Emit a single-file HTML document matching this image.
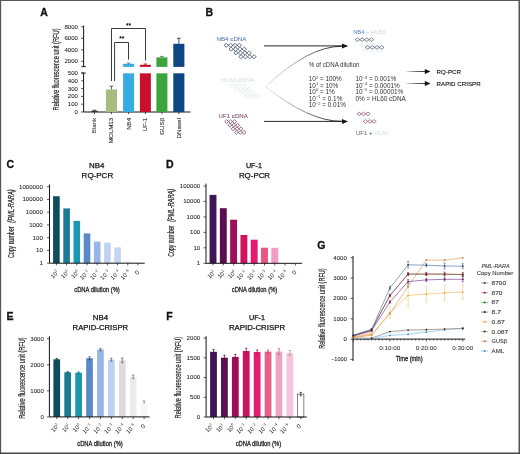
<!DOCTYPE html>
<html><head><meta charset="utf-8"><style>
html,body{margin:0;padding:0;background:#fff;}
body{width:520px;height:454px;overflow:hidden;}
svg{display:block;font-family:"Liberation Sans", sans-serif;-webkit-font-smoothing:antialiased;will-change:transform;}
</style></head><body>
<svg width="520" height="454" viewBox="0 0 520 454">
<rect x="0" y="0" width="520" height="454" fill="#fff"/>
<text x="40.30" y="15.70" font-size="10.5" fill="#111" font-weight="bold" stroke="#111" stroke-width="0.3">A</text>
<text x="205.60" y="15.90" font-size="10.5" fill="#111" font-weight="bold" stroke="#111" stroke-width="0.3">B</text>
<text x="6.50" y="167.50" font-size="10.5" fill="#111" font-weight="bold" stroke="#111" stroke-width="0.3">C</text>
<text x="165.90" y="167.50" font-size="10.5" fill="#111" font-weight="bold" stroke="#111" stroke-width="0.3">D</text>
<text x="6.60" y="320.30" font-size="10.5" fill="#111" font-weight="bold" stroke="#111" stroke-width="0.3">E</text>
<text x="166.20" y="320.30" font-size="10.5" fill="#111" font-weight="bold" stroke="#111" stroke-width="0.3">F</text>
<text x="317.20" y="249.20" font-size="10.5" fill="#111" font-weight="bold" stroke="#111" stroke-width="0.3">G</text>
<line x1="83.60" y1="25.50" x2="83.60" y2="66.80" stroke="#141414" stroke-width="1.0" />
<line x1="81.50" y1="66.60" x2="85.70" y2="66.60" stroke="#141414" stroke-width="1.0" />
<line x1="81.10" y1="26.80" x2="83.60" y2="26.80" stroke="#141414" stroke-width="0.7" />
<text x="78.00" y="28.70" font-size="5.3" text-anchor="end" fill="#222" stroke="#222" stroke-width="0.06" textLength="13.60" lengthAdjust="spacingAndGlyphs">8000</text>
<line x1="81.10" y1="38.30" x2="83.60" y2="38.30" stroke="#141414" stroke-width="0.7" />
<text x="78.00" y="40.20" font-size="5.3" text-anchor="end" fill="#222" stroke="#222" stroke-width="0.06" textLength="13.60" lengthAdjust="spacingAndGlyphs">6000</text>
<line x1="81.10" y1="49.80" x2="83.60" y2="49.80" stroke="#141414" stroke-width="0.7" />
<text x="78.00" y="51.70" font-size="5.3" text-anchor="end" fill="#222" stroke="#222" stroke-width="0.06" textLength="13.60" lengthAdjust="spacingAndGlyphs">4000</text>
<line x1="81.10" y1="61.30" x2="83.60" y2="61.30" stroke="#141414" stroke-width="0.7" />
<text x="78.00" y="63.20" font-size="5.3" text-anchor="end" fill="#222" stroke="#222" stroke-width="0.06" textLength="13.60" lengthAdjust="spacingAndGlyphs">2000</text>
<line x1="83.60" y1="73.00" x2="83.60" y2="112.00" stroke="#141414" stroke-width="1.0" />
<line x1="81.50" y1="73.00" x2="85.70" y2="73.00" stroke="#141414" stroke-width="1.0" />
<line x1="81.10" y1="73.00" x2="83.60" y2="73.00" stroke="#141414" stroke-width="0.7" />
<text x="78.00" y="74.90" font-size="5.3" text-anchor="end" fill="#222" stroke="#222" stroke-width="0.06" textLength="10.20" lengthAdjust="spacingAndGlyphs">500</text>
<line x1="81.10" y1="80.80" x2="83.60" y2="80.80" stroke="#141414" stroke-width="0.7" />
<text x="78.00" y="82.70" font-size="5.3" text-anchor="end" fill="#222" stroke="#222" stroke-width="0.06" textLength="10.20" lengthAdjust="spacingAndGlyphs">400</text>
<line x1="81.10" y1="88.60" x2="83.60" y2="88.60" stroke="#141414" stroke-width="0.7" />
<text x="78.00" y="90.50" font-size="5.3" text-anchor="end" fill="#222" stroke="#222" stroke-width="0.06" textLength="10.20" lengthAdjust="spacingAndGlyphs">300</text>
<line x1="81.10" y1="96.40" x2="83.60" y2="96.40" stroke="#141414" stroke-width="0.7" />
<text x="78.00" y="98.30" font-size="5.3" text-anchor="end" fill="#222" stroke="#222" stroke-width="0.06" textLength="10.20" lengthAdjust="spacingAndGlyphs">200</text>
<line x1="81.10" y1="104.20" x2="83.60" y2="104.20" stroke="#141414" stroke-width="0.7" />
<text x="78.00" y="106.10" font-size="5.3" text-anchor="end" fill="#222" stroke="#222" stroke-width="0.06" textLength="10.20" lengthAdjust="spacingAndGlyphs">100</text>
<line x1="81.10" y1="112.00" x2="83.60" y2="112.00" stroke="#141414" stroke-width="0.7" />
<text x="78.00" y="113.90" font-size="5.3" text-anchor="end" fill="#222" stroke="#222" stroke-width="0.06" textLength="3.40" lengthAdjust="spacingAndGlyphs">0</text>
<line x1="83.60" y1="112.00" x2="190.50" y2="112.00" stroke="#141414" stroke-width="1.0" />
<rect x="91.20" y="110.80" width="6.60" height="1.20" fill="#333333" />
<line x1="94.50" y1="110.20" x2="94.50" y2="111.00" stroke="#222" stroke-width="0.8" />
<line x1="92.70" y1="110.20" x2="96.30" y2="110.20" stroke="#222" stroke-width="0.8" />
<line x1="94.50" y1="112.00" x2="94.50" y2="114.20" stroke="#141414" stroke-width="0.7" />
<text transform="translate(96.40,117.80) rotate(-90)" font-size="6.2" text-anchor="end" fill="#2a2a2a" stroke="#2a2a2a" stroke-width="0.08" >Blank</text>
<rect x="105.90" y="89.40" width="11.10" height="22.60" fill="#a9bb80" />
<line x1="111.45" y1="86.20" x2="111.45" y2="89.40" stroke="#3a3a2a" stroke-width="0.8" />
<line x1="109.65" y1="86.20" x2="113.25" y2="86.20" stroke="#3a3a2a" stroke-width="0.8" />
<line x1="111.45" y1="112.00" x2="111.45" y2="114.20" stroke="#141414" stroke-width="0.7" />
<text transform="translate(113.35,117.80) rotate(-90)" font-size="6.2" text-anchor="end" fill="#2a2a2a" stroke="#2a2a2a" stroke-width="0.08" >MOLM13</text>
<rect x="123.10" y="73.30" width="11.00" height="38.70" fill="#38aae2" />
<rect x="123.10" y="63.80" width="11.00" height="3.10" fill="#38aae2" />
<line x1="128.60" y1="63.00" x2="128.60" y2="63.80" stroke="#2a78b0" stroke-width="0.8" />
<line x1="126.80" y1="63.00" x2="130.40" y2="63.00" stroke="#2a78b0" stroke-width="0.8" />
<line x1="128.60" y1="112.00" x2="128.60" y2="114.20" stroke="#141414" stroke-width="0.7" />
<text transform="translate(130.50,117.80) rotate(-90)" font-size="6.2" text-anchor="end" fill="#2a2a2a" stroke="#2a2a2a" stroke-width="0.08" >NB4</text>
<rect x="139.90" y="73.30" width="11.00" height="38.70" fill="#c8102e" />
<rect x="139.90" y="64.80" width="11.00" height="2.10" fill="#c8102e" />
<line x1="145.40" y1="64.00" x2="145.40" y2="64.80" stroke="#8a1020" stroke-width="0.8" />
<line x1="143.60" y1="64.00" x2="147.20" y2="64.00" stroke="#8a1020" stroke-width="0.8" />
<line x1="145.40" y1="112.00" x2="145.40" y2="114.20" stroke="#141414" stroke-width="0.7" />
<text transform="translate(147.30,117.80) rotate(-90)" font-size="6.2" text-anchor="end" fill="#2a2a2a" stroke="#2a2a2a" stroke-width="0.08" >UF-1</text>
<rect x="156.40" y="73.30" width="11.00" height="38.70" fill="#3ba53c" />
<rect x="156.40" y="57.40" width="11.00" height="9.50" fill="#3ba53c" />
<line x1="161.90" y1="56.40" x2="161.90" y2="57.40" stroke="#2a7a2a" stroke-width="0.8" />
<line x1="160.10" y1="56.40" x2="163.70" y2="56.40" stroke="#2a7a2a" stroke-width="0.8" />
<line x1="161.90" y1="112.00" x2="161.90" y2="114.20" stroke="#141414" stroke-width="0.7" />
<text transform="translate(163.80,117.80) rotate(-90)" font-size="6.2" text-anchor="end" fill="#2a2a2a" stroke="#2a2a2a" stroke-width="0.08" >GUS&#946;</text>
<rect x="173.30" y="73.30" width="11.10" height="38.70" fill="#0d4683" />
<rect x="173.30" y="43.80" width="11.10" height="23.10" fill="#0d4683" />
<line x1="178.85" y1="38.30" x2="178.85" y2="43.80" stroke="#0a2a55" stroke-width="0.8" />
<line x1="177.05" y1="38.30" x2="180.65" y2="38.30" stroke="#0a2a55" stroke-width="0.8" />
<line x1="178.85" y1="112.00" x2="178.85" y2="114.20" stroke="#141414" stroke-width="0.7" />
<text transform="translate(180.75,117.80) rotate(-90)" font-size="6.2" text-anchor="end" fill="#2a2a2a" stroke="#2a2a2a" stroke-width="0.08" >DNaseI</text>
<polyline points="111.5,81 111.5,28.5 145.5,28.5 145.5,60.5" fill="none" stroke="#262626" stroke-width="0.9"/>
<polyline points="114.6,81 114.6,42.5 128.5,42.5 128.5,59.5" fill="none" stroke="#262626" stroke-width="0.9"/>
<text x="128.60" y="27.60" font-size="6.5" text-anchor="middle" font-weight="bold" >**</text>
<text x="121.70" y="41.40" font-size="6.5" text-anchor="middle" font-weight="bold" >**</text>
<text transform="translate(58.60,69.45) rotate(-90)" font-size="8.2" text-anchor="middle" fill="#262626" textLength="82" lengthAdjust="spacingAndGlyphs" stroke="#262626" stroke-width="0.18" >Relative fluorescence unit (RFU)</text>
<text x="96.80" y="167.70" font-size="7.8" text-anchor="middle" textLength="15.4" lengthAdjust="spacingAndGlyphs" stroke="#222" stroke-width="0.25" >NB4</text>
<text x="97.40" y="177.60" font-size="7.8" text-anchor="middle" textLength="31.6" lengthAdjust="spacingAndGlyphs" stroke="#222" stroke-width="0.25" >RQ-PCR</text>
<line x1="49.50" y1="184.50" x2="49.50" y2="263.20" stroke="#141414" stroke-width="1.0" />
<line x1="47.00" y1="186.70" x2="49.50" y2="186.70" stroke="#141414" stroke-width="0.7" />
<text x="42.80" y="188.60" font-size="5.3" text-anchor="end" fill="#222" stroke="#222" stroke-width="0.06" textLength="23.80" lengthAdjust="spacingAndGlyphs">1000000</text>
<line x1="47.00" y1="199.45" x2="49.50" y2="199.45" stroke="#141414" stroke-width="0.7" />
<text x="42.80" y="201.35" font-size="5.3" text-anchor="end" fill="#222" stroke="#222" stroke-width="0.06" textLength="20.40" lengthAdjust="spacingAndGlyphs">100000</text>
<line x1="47.00" y1="212.20" x2="49.50" y2="212.20" stroke="#141414" stroke-width="0.7" />
<text x="42.80" y="214.10" font-size="5.3" text-anchor="end" fill="#222" stroke="#222" stroke-width="0.06" textLength="17.00" lengthAdjust="spacingAndGlyphs">10000</text>
<line x1="47.00" y1="224.95" x2="49.50" y2="224.95" stroke="#141414" stroke-width="0.7" />
<text x="42.80" y="226.85" font-size="5.3" text-anchor="end" fill="#222" stroke="#222" stroke-width="0.06" textLength="13.60" lengthAdjust="spacingAndGlyphs">1000</text>
<line x1="47.00" y1="237.70" x2="49.50" y2="237.70" stroke="#141414" stroke-width="0.7" />
<text x="42.80" y="239.60" font-size="5.3" text-anchor="end" fill="#222" stroke="#222" stroke-width="0.06" textLength="10.20" lengthAdjust="spacingAndGlyphs">100</text>
<line x1="47.00" y1="250.45" x2="49.50" y2="250.45" stroke="#141414" stroke-width="0.7" />
<text x="42.80" y="252.35" font-size="5.3" text-anchor="end" fill="#222" stroke="#222" stroke-width="0.06" textLength="6.80" lengthAdjust="spacingAndGlyphs">10</text>
<line x1="47.00" y1="263.20" x2="49.50" y2="263.20" stroke="#141414" stroke-width="0.7" />
<text x="42.80" y="265.10" font-size="5.3" text-anchor="end" fill="#222" stroke="#222" stroke-width="0.06" textLength="3.40" lengthAdjust="spacingAndGlyphs">1</text>
<rect x="53.10" y="196.20" width="6.60" height="67.00" fill="#0f4c5d" />
<rect x="63.30" y="208.40" width="6.60" height="54.80" fill="#1a7b94" />
<rect x="73.50" y="220.90" width="6.60" height="42.30" fill="#1a98b1" />
<rect x="83.70" y="233.40" width="6.60" height="29.80" fill="#5a88c8" />
<rect x="93.90" y="241.60" width="6.60" height="21.60" fill="#96b6e4" />
<rect x="104.10" y="242.70" width="6.60" height="20.50" fill="#c0d3f0" />
<rect x="114.30" y="247.40" width="6.60" height="15.80" fill="#c2d4ef" />
<rect x="124.50" y="259.60" width="6.60" height="3.60" fill="#f3f4f9" />
<line x1="49.50" y1="263.20" x2="144.70" y2="263.20" stroke="#141414" stroke-width="1.0" />
<line x1="56.40" y1="263.20" x2="56.40" y2="265.40" stroke="#141414" stroke-width="0.7" />
<line x1="66.60" y1="263.20" x2="66.60" y2="265.40" stroke="#141414" stroke-width="0.7" />
<line x1="76.80" y1="263.20" x2="76.80" y2="265.40" stroke="#141414" stroke-width="0.7" />
<line x1="87.00" y1="263.20" x2="87.00" y2="265.40" stroke="#141414" stroke-width="0.7" />
<line x1="97.20" y1="263.20" x2="97.20" y2="265.40" stroke="#141414" stroke-width="0.7" />
<line x1="107.40" y1="263.20" x2="107.40" y2="265.40" stroke="#141414" stroke-width="0.7" />
<line x1="117.60" y1="263.20" x2="117.60" y2="265.40" stroke="#141414" stroke-width="0.7" />
<line x1="127.80" y1="263.20" x2="127.80" y2="265.40" stroke="#141414" stroke-width="0.7" />
<line x1="138.00" y1="263.20" x2="138.00" y2="265.40" stroke="#141414" stroke-width="0.7" />
<text transform="translate(59.20,272.60) rotate(-45)" font-size="5.9" text-anchor="end" fill="#222">10<tspan font-size="3.66" dy="-2.48">2</tspan></text>
<text transform="translate(69.40,272.60) rotate(-45)" font-size="5.9" text-anchor="end" fill="#222">10<tspan font-size="3.66" dy="-2.48">1</tspan></text>
<text transform="translate(79.60,272.60) rotate(-45)" font-size="5.9" text-anchor="end" fill="#222">10<tspan font-size="3.66" dy="-2.48">0</tspan></text>
<text transform="translate(89.80,272.60) rotate(-45)" font-size="5.9" text-anchor="end" fill="#222">10<tspan font-size="3.66" dy="-2.48">&#8722;1</tspan></text>
<text transform="translate(100.00,272.60) rotate(-45)" font-size="5.9" text-anchor="end" fill="#222">10<tspan font-size="3.66" dy="-2.48">&#8722;2</tspan></text>
<text transform="translate(110.20,272.60) rotate(-45)" font-size="5.9" text-anchor="end" fill="#222">10<tspan font-size="3.66" dy="-2.48">&#8722;3</tspan></text>
<text transform="translate(120.40,272.60) rotate(-45)" font-size="5.9" text-anchor="end" fill="#222">10<tspan font-size="3.66" dy="-2.48">&#8722;4</tspan></text>
<text transform="translate(130.60,272.60) rotate(-45)" font-size="5.9" text-anchor="end" fill="#222">10<tspan font-size="3.66" dy="-2.48">&#8722;5</tspan></text>
<text transform="translate(139.60,272.80) rotate(-45)" font-size="6.2" text-anchor="end" fill="#222">0</text>
<text transform="translate(14.20,258.00) rotate(-90)" font-size="8.2" fill="#262626" stroke="#262626" stroke-width="0.22" textLength="31.42" lengthAdjust="spacingAndGlyphs">Copy number</text>
<text transform="translate(14.20,222.67) rotate(-90)" font-size="8.2" fill="#262626" stroke="#262626" stroke-width="0.25" font-style="italic" textLength="33.27" lengthAdjust="spacingAndGlyphs">(PML-RARA)</text>
<text x="97.00" y="292.00" font-size="7.4" text-anchor="middle" fill="#1a1a1a" textLength="45.5" lengthAdjust="spacingAndGlyphs" stroke="#1a1a1a" stroke-width="0.28">cDNA dilution (%)</text>
<text x="253.90" y="167.90" font-size="7.8" text-anchor="middle" textLength="16.0" lengthAdjust="spacingAndGlyphs" stroke="#222" stroke-width="0.25" >UF-1</text>
<text x="254.50" y="177.60" font-size="7.8" text-anchor="middle" textLength="31.2" lengthAdjust="spacingAndGlyphs" stroke="#222" stroke-width="0.25" >RQ-PCR</text>
<line x1="206.00" y1="183.60" x2="206.00" y2="263.30" stroke="#141414" stroke-width="1.0" />
<line x1="203.50" y1="186.00" x2="206.00" y2="186.00" stroke="#141414" stroke-width="0.7" />
<text x="200.20" y="187.90" font-size="5.3" text-anchor="end" fill="#222" stroke="#222" stroke-width="0.06" textLength="20.40" lengthAdjust="spacingAndGlyphs">100000</text>
<line x1="203.50" y1="201.46" x2="206.00" y2="201.46" stroke="#141414" stroke-width="0.7" />
<text x="200.20" y="203.36" font-size="5.3" text-anchor="end" fill="#222" stroke="#222" stroke-width="0.06" textLength="17.00" lengthAdjust="spacingAndGlyphs">10000</text>
<line x1="203.50" y1="216.92" x2="206.00" y2="216.92" stroke="#141414" stroke-width="0.7" />
<text x="200.20" y="218.82" font-size="5.3" text-anchor="end" fill="#222" stroke="#222" stroke-width="0.06" textLength="13.60" lengthAdjust="spacingAndGlyphs">1000</text>
<line x1="203.50" y1="232.38" x2="206.00" y2="232.38" stroke="#141414" stroke-width="0.7" />
<text x="200.20" y="234.28" font-size="5.3" text-anchor="end" fill="#222" stroke="#222" stroke-width="0.06" textLength="10.20" lengthAdjust="spacingAndGlyphs">100</text>
<line x1="203.50" y1="247.84" x2="206.00" y2="247.84" stroke="#141414" stroke-width="0.7" />
<text x="200.20" y="249.74" font-size="5.3" text-anchor="end" fill="#222" stroke="#222" stroke-width="0.06" textLength="6.80" lengthAdjust="spacingAndGlyphs">10</text>
<line x1="203.50" y1="263.30" x2="206.00" y2="263.30" stroke="#141414" stroke-width="0.7" />
<text x="200.20" y="265.20" font-size="5.3" text-anchor="end" fill="#222" stroke="#222" stroke-width="0.06" textLength="3.40" lengthAdjust="spacingAndGlyphs">1</text>
<rect x="209.55" y="194.90" width="6.90" height="68.40" fill="#3c1656" />
<rect x="219.85" y="208.20" width="6.90" height="55.10" fill="#5a0f4e" />
<rect x="230.15" y="219.70" width="6.90" height="43.60" fill="#a00f55" />
<rect x="240.45" y="235.00" width="6.90" height="28.30" fill="#d0125f" />
<rect x="250.75" y="239.70" width="6.90" height="23.60" fill="#e61a70" />
<rect x="261.05" y="247.70" width="6.90" height="15.60" fill="#ec5484" />
<rect x="271.35" y="247.80" width="6.90" height="15.50" fill="#f29cc0" />
<line x1="206.00" y1="263.30" x2="302.20" y2="263.30" stroke="#141414" stroke-width="1.0" />
<line x1="213.00" y1="263.30" x2="213.00" y2="265.50" stroke="#141414" stroke-width="0.7" />
<line x1="223.30" y1="263.30" x2="223.30" y2="265.50" stroke="#141414" stroke-width="0.7" />
<line x1="233.60" y1="263.30" x2="233.60" y2="265.50" stroke="#141414" stroke-width="0.7" />
<line x1="243.90" y1="263.30" x2="243.90" y2="265.50" stroke="#141414" stroke-width="0.7" />
<line x1="254.20" y1="263.30" x2="254.20" y2="265.50" stroke="#141414" stroke-width="0.7" />
<line x1="264.50" y1="263.30" x2="264.50" y2="265.50" stroke="#141414" stroke-width="0.7" />
<line x1="274.80" y1="263.30" x2="274.80" y2="265.50" stroke="#141414" stroke-width="0.7" />
<line x1="285.10" y1="263.30" x2="285.10" y2="265.50" stroke="#141414" stroke-width="0.7" />
<line x1="295.40" y1="263.30" x2="295.40" y2="265.50" stroke="#141414" stroke-width="0.7" />
<text transform="translate(215.80,272.70) rotate(-45)" font-size="5.9" text-anchor="end" fill="#222">10<tspan font-size="3.66" dy="-2.48">2</tspan></text>
<text transform="translate(226.10,272.70) rotate(-45)" font-size="5.9" text-anchor="end" fill="#222">10<tspan font-size="3.66" dy="-2.48">1</tspan></text>
<text transform="translate(236.40,272.70) rotate(-45)" font-size="5.9" text-anchor="end" fill="#222">10<tspan font-size="3.66" dy="-2.48">0</tspan></text>
<text transform="translate(246.70,272.70) rotate(-45)" font-size="5.9" text-anchor="end" fill="#222">10<tspan font-size="3.66" dy="-2.48">&#8722;1</tspan></text>
<text transform="translate(257.00,272.70) rotate(-45)" font-size="5.9" text-anchor="end" fill="#222">10<tspan font-size="3.66" dy="-2.48">&#8722;2</tspan></text>
<text transform="translate(267.30,272.70) rotate(-45)" font-size="5.9" text-anchor="end" fill="#222">10<tspan font-size="3.66" dy="-2.48">&#8722;3</tspan></text>
<text transform="translate(277.60,272.70) rotate(-45)" font-size="5.9" text-anchor="end" fill="#222">10<tspan font-size="3.66" dy="-2.48">&#8722;4</tspan></text>
<text transform="translate(287.90,272.70) rotate(-45)" font-size="5.9" text-anchor="end" fill="#222">10<tspan font-size="3.66" dy="-2.48">&#8722;5</tspan></text>
<text transform="translate(297.00,272.90) rotate(-45)" font-size="6.2" text-anchor="end" fill="#222">0</text>
<text transform="translate(174.10,256.80) rotate(-90)" font-size="8.2" fill="#262626" stroke="#262626" stroke-width="0.22" textLength="31.10" lengthAdjust="spacingAndGlyphs">Copy number</text>
<text transform="translate(174.10,221.83) rotate(-90)" font-size="8.2" fill="#262626" stroke="#262626" stroke-width="0.25" font-style="italic" textLength="32.93" lengthAdjust="spacingAndGlyphs">(PML-RARA)</text>
<text x="254.50" y="292.30" font-size="7.4" text-anchor="middle" fill="#1a1a1a" textLength="45.5" lengthAdjust="spacingAndGlyphs" stroke="#1a1a1a" stroke-width="0.28">cDNA dilution (%)</text>
<text x="100.40" y="320.20" font-size="7.8" text-anchor="middle" textLength="15.4" lengthAdjust="spacingAndGlyphs" stroke="#222" stroke-width="0.25" >NB4</text>
<text x="100.40" y="330.20" font-size="7.8" text-anchor="middle" textLength="55.6" lengthAdjust="spacingAndGlyphs" stroke="#222" stroke-width="0.25" >RAPID-CRISPR</text>
<line x1="49.40" y1="336.20" x2="49.40" y2="416.90" stroke="#141414" stroke-width="1.0" />
<line x1="46.90" y1="338.70" x2="49.40" y2="338.70" stroke="#141414" stroke-width="0.7" />
<text x="43.90" y="340.60" font-size="5.3" text-anchor="end" fill="#222" stroke="#222" stroke-width="0.06" textLength="13.60" lengthAdjust="spacingAndGlyphs">3000</text>
<line x1="46.90" y1="364.77" x2="49.40" y2="364.77" stroke="#141414" stroke-width="0.7" />
<text x="43.90" y="366.67" font-size="5.3" text-anchor="end" fill="#222" stroke="#222" stroke-width="0.06" textLength="13.60" lengthAdjust="spacingAndGlyphs">2000</text>
<line x1="46.90" y1="390.83" x2="49.40" y2="390.83" stroke="#141414" stroke-width="0.7" />
<text x="43.90" y="392.73" font-size="5.3" text-anchor="end" fill="#222" stroke="#222" stroke-width="0.06" textLength="13.60" lengthAdjust="spacingAndGlyphs">1000</text>
<line x1="46.90" y1="416.90" x2="49.40" y2="416.90" stroke="#141414" stroke-width="0.7" />
<text x="43.90" y="418.80" font-size="5.3" text-anchor="end" fill="#222" stroke="#222" stroke-width="0.06" textLength="3.40" lengthAdjust="spacingAndGlyphs">0</text>
<rect x="53.40" y="359.30" width="6.70" height="57.60" fill="#0f4c5d" />
<line x1="56.75" y1="358.40" x2="56.75" y2="360.20" stroke="#1a3a44" stroke-width="0.8" />
<line x1="55.65" y1="358.40" x2="57.85" y2="358.40" stroke="#1a3a44" stroke-width="0.8" />
<line x1="55.65" y1="360.20" x2="57.85" y2="360.20" stroke="#1a3a44" stroke-width="0.8" />
<rect x="64.32" y="372.30" width="6.70" height="44.60" fill="#1a7b94" />
<line x1="67.67" y1="371.60" x2="67.67" y2="373.00" stroke="#1a5a6a" stroke-width="0.8" />
<line x1="66.57" y1="371.60" x2="68.77" y2="371.60" stroke="#1a5a6a" stroke-width="0.8" />
<line x1="66.57" y1="373.00" x2="68.77" y2="373.00" stroke="#1a5a6a" stroke-width="0.8" />
<rect x="75.24" y="372.70" width="6.70" height="44.20" fill="#1a98b1" />
<line x1="78.59" y1="372.00" x2="78.59" y2="373.40" stroke="#1a6a7a" stroke-width="0.8" />
<line x1="77.49" y1="372.00" x2="79.69" y2="372.00" stroke="#1a6a7a" stroke-width="0.8" />
<line x1="77.49" y1="373.40" x2="79.69" y2="373.40" stroke="#1a6a7a" stroke-width="0.8" />
<rect x="86.16" y="358.20" width="6.70" height="58.70" fill="#5a88c8" />
<line x1="89.51" y1="356.80" x2="89.51" y2="359.80" stroke="#3a4a70" stroke-width="0.8" />
<line x1="88.41" y1="356.80" x2="90.61" y2="356.80" stroke="#3a4a70" stroke-width="0.8" />
<line x1="88.41" y1="359.80" x2="90.61" y2="359.80" stroke="#3a4a70" stroke-width="0.8" />
<rect x="97.08" y="349.50" width="6.70" height="67.40" fill="#96b6e4" />
<line x1="100.43" y1="348.40" x2="100.43" y2="350.80" stroke="#4a5a80" stroke-width="0.8" />
<line x1="99.33" y1="348.40" x2="101.53" y2="348.40" stroke="#4a5a80" stroke-width="0.8" />
<line x1="99.33" y1="350.80" x2="101.53" y2="350.80" stroke="#4a5a80" stroke-width="0.8" />
<rect x="108.00" y="359.70" width="6.70" height="57.20" fill="#bcd2f0" />
<line x1="111.35" y1="358.20" x2="111.35" y2="361.20" stroke="#55607a" stroke-width="0.8" />
<line x1="110.25" y1="358.20" x2="112.45" y2="358.20" stroke="#55607a" stroke-width="0.8" />
<line x1="110.25" y1="361.20" x2="112.45" y2="361.20" stroke="#55607a" stroke-width="0.8" />
<rect x="118.92" y="360.30" width="6.70" height="56.60" fill="#dcdcdc" />
<line x1="122.27" y1="358.00" x2="122.27" y2="362.60" stroke="#666" stroke-width="0.8" />
<line x1="121.17" y1="358.00" x2="123.37" y2="358.00" stroke="#666" stroke-width="0.8" />
<line x1="121.17" y1="362.60" x2="123.37" y2="362.60" stroke="#666" stroke-width="0.8" />
<rect x="129.84" y="376.70" width="6.70" height="40.20" fill="#ebebeb" />
<line x1="133.19" y1="375.00" x2="133.19" y2="378.60" stroke="#777" stroke-width="0.8" />
<line x1="132.09" y1="375.00" x2="134.29" y2="375.00" stroke="#777" stroke-width="0.8" />
<line x1="132.09" y1="378.60" x2="134.29" y2="378.60" stroke="#777" stroke-width="0.8" />
<rect x="140.76" y="403.40" width="6.70" height="13.50" fill="#f6f6f6" />
<line x1="144.11" y1="401.00" x2="144.11" y2="403.60" stroke="#666" stroke-width="0.8" />
<line x1="143.01" y1="401.00" x2="145.21" y2="401.00" stroke="#666" stroke-width="0.8" />
<line x1="49.40" y1="416.90" x2="149.60" y2="416.90" stroke="#141414" stroke-width="1.0" />
<line x1="56.75" y1="416.90" x2="56.75" y2="419.10" stroke="#141414" stroke-width="0.7" />
<line x1="67.67" y1="416.90" x2="67.67" y2="419.10" stroke="#141414" stroke-width="0.7" />
<line x1="78.59" y1="416.90" x2="78.59" y2="419.10" stroke="#141414" stroke-width="0.7" />
<line x1="89.51" y1="416.90" x2="89.51" y2="419.10" stroke="#141414" stroke-width="0.7" />
<line x1="100.43" y1="416.90" x2="100.43" y2="419.10" stroke="#141414" stroke-width="0.7" />
<line x1="111.35" y1="416.90" x2="111.35" y2="419.10" stroke="#141414" stroke-width="0.7" />
<line x1="122.27" y1="416.90" x2="122.27" y2="419.10" stroke="#141414" stroke-width="0.7" />
<line x1="133.19" y1="416.90" x2="133.19" y2="419.10" stroke="#141414" stroke-width="0.7" />
<line x1="144.11" y1="416.90" x2="144.11" y2="419.10" stroke="#141414" stroke-width="0.7" />
<text transform="translate(59.55,426.30) rotate(-45)" font-size="5.9" text-anchor="end" fill="#222">10<tspan font-size="3.66" dy="-2.48">2</tspan></text>
<text transform="translate(70.47,426.30) rotate(-45)" font-size="5.9" text-anchor="end" fill="#222">10<tspan font-size="3.66" dy="-2.48">1</tspan></text>
<text transform="translate(81.39,426.30) rotate(-45)" font-size="5.9" text-anchor="end" fill="#222">10<tspan font-size="3.66" dy="-2.48">0</tspan></text>
<text transform="translate(92.31,426.30) rotate(-45)" font-size="5.9" text-anchor="end" fill="#222">10<tspan font-size="3.66" dy="-2.48">&#8722;1</tspan></text>
<text transform="translate(103.23,426.30) rotate(-45)" font-size="5.9" text-anchor="end" fill="#222">10<tspan font-size="3.66" dy="-2.48">&#8722;2</tspan></text>
<text transform="translate(114.15,426.30) rotate(-45)" font-size="5.9" text-anchor="end" fill="#222">10<tspan font-size="3.66" dy="-2.48">&#8722;3</tspan></text>
<text transform="translate(125.07,426.30) rotate(-45)" font-size="5.9" text-anchor="end" fill="#222">10<tspan font-size="3.66" dy="-2.48">&#8722;4</tspan></text>
<text transform="translate(135.99,426.30) rotate(-45)" font-size="5.9" text-anchor="end" fill="#222">10<tspan font-size="3.66" dy="-2.48">&#8722;5</tspan></text>
<text transform="translate(145.71,426.50) rotate(-45)" font-size="6.2" text-anchor="end" fill="#222">0</text>
<text transform="translate(24.60,378.00) rotate(-90)" font-size="8.2" text-anchor="middle" fill="#262626" textLength="81.5" lengthAdjust="spacingAndGlyphs" stroke="#262626" stroke-width="0.18" >Relative fluorescence unit (RFU)</text>
<text x="100.00" y="445.70" font-size="7.4" text-anchor="middle" fill="#1a1a1a" textLength="45.5" lengthAdjust="spacingAndGlyphs" stroke="#1a1a1a" stroke-width="0.28">cDNA dilution (%)</text>
<text x="257.00" y="320.20" font-size="7.8" text-anchor="middle" textLength="16.0" lengthAdjust="spacingAndGlyphs" stroke="#222" stroke-width="0.25" >UF-1</text>
<text x="257.00" y="330.20" font-size="7.8" text-anchor="middle" textLength="56.2" lengthAdjust="spacingAndGlyphs" stroke="#222" stroke-width="0.25" >RAPID-CRISPR</text>
<line x1="206.10" y1="336.20" x2="206.10" y2="417.10" stroke="#141414" stroke-width="1.0" />
<line x1="203.60" y1="338.10" x2="206.10" y2="338.10" stroke="#141414" stroke-width="0.7" />
<text x="200.20" y="340.00" font-size="5.3" text-anchor="end" fill="#222" stroke="#222" stroke-width="0.06" textLength="13.60" lengthAdjust="spacingAndGlyphs">2000</text>
<line x1="203.60" y1="357.82" x2="206.10" y2="357.82" stroke="#141414" stroke-width="0.7" />
<text x="200.20" y="359.72" font-size="5.3" text-anchor="end" fill="#222" stroke="#222" stroke-width="0.06" textLength="13.60" lengthAdjust="spacingAndGlyphs">1500</text>
<line x1="203.60" y1="377.55" x2="206.10" y2="377.55" stroke="#141414" stroke-width="0.7" />
<text x="200.20" y="379.45" font-size="5.3" text-anchor="end" fill="#222" stroke="#222" stroke-width="0.06" textLength="13.60" lengthAdjust="spacingAndGlyphs">1000</text>
<line x1="203.60" y1="397.27" x2="206.10" y2="397.27" stroke="#141414" stroke-width="0.7" />
<text x="200.20" y="399.17" font-size="5.3" text-anchor="end" fill="#222" stroke="#222" stroke-width="0.06" textLength="10.20" lengthAdjust="spacingAndGlyphs">500</text>
<line x1="203.60" y1="417.00" x2="206.10" y2="417.00" stroke="#141414" stroke-width="0.7" />
<text x="200.20" y="418.90" font-size="5.3" text-anchor="end" fill="#222" stroke="#222" stroke-width="0.06" textLength="3.40" lengthAdjust="spacingAndGlyphs">0</text>
<rect x="210.10" y="351.80" width="6.80" height="65.20" fill="#3c1656" />
<line x1="213.50" y1="349.50" x2="213.50" y2="354.10" stroke="#3c1656" stroke-width="0.8" />
<line x1="212.40" y1="349.50" x2="214.60" y2="349.50" stroke="#3c1656" stroke-width="0.8" />
<line x1="212.40" y1="354.10" x2="214.60" y2="354.10" stroke="#3c1656" stroke-width="0.8" />
<rect x="221.01" y="357.70" width="6.80" height="59.30" fill="#5a0f4e" />
<line x1="224.41" y1="355.20" x2="224.41" y2="360.20" stroke="#5a0f4e" stroke-width="0.8" />
<line x1="223.31" y1="355.20" x2="225.51" y2="355.20" stroke="#5a0f4e" stroke-width="0.8" />
<line x1="223.31" y1="360.20" x2="225.51" y2="360.20" stroke="#5a0f4e" stroke-width="0.8" />
<rect x="231.92" y="356.90" width="6.80" height="60.10" fill="#a00f55" />
<line x1="235.32" y1="354.50" x2="235.32" y2="359.30" stroke="#800c45" stroke-width="0.8" />
<line x1="234.22" y1="354.50" x2="236.42" y2="354.50" stroke="#800c45" stroke-width="0.8" />
<line x1="234.22" y1="359.30" x2="236.42" y2="359.30" stroke="#800c45" stroke-width="0.8" />
<rect x="242.83" y="351.00" width="6.80" height="66.00" fill="#cc1262" />
<line x1="246.23" y1="348.20" x2="246.23" y2="353.80" stroke="#a00e4c" stroke-width="0.8" />
<line x1="245.13" y1="348.20" x2="247.33" y2="348.20" stroke="#a00e4c" stroke-width="0.8" />
<line x1="245.13" y1="353.80" x2="247.33" y2="353.80" stroke="#a00e4c" stroke-width="0.8" />
<rect x="253.74" y="352.00" width="6.80" height="65.00" fill="#e41c72" />
<line x1="257.14" y1="350.10" x2="257.14" y2="353.90" stroke="#b01458" stroke-width="0.8" />
<line x1="256.04" y1="350.10" x2="258.24" y2="350.10" stroke="#b01458" stroke-width="0.8" />
<line x1="256.04" y1="353.90" x2="258.24" y2="353.90" stroke="#b01458" stroke-width="0.8" />
<rect x="264.65" y="351.60" width="6.80" height="65.40" fill="#e8608c" />
<line x1="268.05" y1="350.10" x2="268.05" y2="353.10" stroke="#b84470" stroke-width="0.8" />
<line x1="266.95" y1="350.10" x2="269.15" y2="350.10" stroke="#b84470" stroke-width="0.8" />
<line x1="266.95" y1="353.10" x2="269.15" y2="353.10" stroke="#b84470" stroke-width="0.8" />
<rect x="275.56" y="351.60" width="6.80" height="65.40" fill="#f0a2c4" />
<line x1="278.96" y1="348.60" x2="278.96" y2="354.60" stroke="#b87090" stroke-width="0.8" />
<line x1="277.86" y1="348.60" x2="280.06" y2="348.60" stroke="#b87090" stroke-width="0.8" />
<line x1="277.86" y1="354.60" x2="280.06" y2="354.60" stroke="#b87090" stroke-width="0.8" />
<rect x="286.47" y="353.10" width="6.80" height="63.90" fill="#f6c4da" />
<line x1="289.87" y1="350.50" x2="289.87" y2="355.70" stroke="#b88aa0" stroke-width="0.8" />
<line x1="288.77" y1="350.50" x2="290.97" y2="350.50" stroke="#b88aa0" stroke-width="0.8" />
<line x1="288.77" y1="355.70" x2="290.97" y2="355.70" stroke="#b88aa0" stroke-width="0.8" />
<rect x="297.68" y="394.10" width="6.20" height="22.90" fill="#ffffff" stroke="#333" stroke-width="0.6"/>
<line x1="300.78" y1="392.40" x2="300.78" y2="395.80" stroke="#333" stroke-width="0.8" />
<line x1="299.68" y1="392.40" x2="301.88" y2="392.40" stroke="#333" stroke-width="0.8" />
<line x1="299.68" y1="395.80" x2="301.88" y2="395.80" stroke="#333" stroke-width="0.8" />
<line x1="206.10" y1="417.00" x2="306.80" y2="417.00" stroke="#141414" stroke-width="1.0" />
<line x1="213.50" y1="417.00" x2="213.50" y2="419.20" stroke="#141414" stroke-width="0.7" />
<line x1="224.41" y1="417.00" x2="224.41" y2="419.20" stroke="#141414" stroke-width="0.7" />
<line x1="235.32" y1="417.00" x2="235.32" y2="419.20" stroke="#141414" stroke-width="0.7" />
<line x1="246.23" y1="417.00" x2="246.23" y2="419.20" stroke="#141414" stroke-width="0.7" />
<line x1="257.14" y1="417.00" x2="257.14" y2="419.20" stroke="#141414" stroke-width="0.7" />
<line x1="268.05" y1="417.00" x2="268.05" y2="419.20" stroke="#141414" stroke-width="0.7" />
<line x1="278.96" y1="417.00" x2="278.96" y2="419.20" stroke="#141414" stroke-width="0.7" />
<line x1="289.87" y1="417.00" x2="289.87" y2="419.20" stroke="#141414" stroke-width="0.7" />
<line x1="300.78" y1="417.00" x2="300.78" y2="419.20" stroke="#141414" stroke-width="0.7" />
<text transform="translate(213.70,426.40) rotate(-45)" font-size="5.9" text-anchor="end" fill="#222">10<tspan font-size="3.66" dy="-2.48">2</tspan></text>
<text transform="translate(224.61,426.40) rotate(-45)" font-size="5.9" text-anchor="end" fill="#222">10<tspan font-size="3.66" dy="-2.48">1</tspan></text>
<text transform="translate(235.52,426.40) rotate(-45)" font-size="5.9" text-anchor="end" fill="#222">10<tspan font-size="3.66" dy="-2.48">0</tspan></text>
<text transform="translate(246.43,426.40) rotate(-45)" font-size="5.9" text-anchor="end" fill="#222">10<tspan font-size="3.66" dy="-2.48">&#8722;1</tspan></text>
<text transform="translate(257.34,426.40) rotate(-45)" font-size="5.9" text-anchor="end" fill="#222">10<tspan font-size="3.66" dy="-2.48">&#8722;2</tspan></text>
<text transform="translate(268.25,426.40) rotate(-45)" font-size="5.9" text-anchor="end" fill="#222">10<tspan font-size="3.66" dy="-2.48">&#8722;3</tspan></text>
<text transform="translate(279.16,426.40) rotate(-45)" font-size="5.9" text-anchor="end" fill="#222">10<tspan font-size="3.66" dy="-2.48">&#8722;4</tspan></text>
<text transform="translate(290.07,426.40) rotate(-45)" font-size="5.9" text-anchor="end" fill="#222">10<tspan font-size="3.66" dy="-2.48">&#8722;5</tspan></text>
<text transform="translate(301.34,426.60) rotate(-45)" font-size="6.2" text-anchor="end" fill="#222">0</text>
<text transform="translate(181.20,377.65) rotate(-90)" font-size="8.2" text-anchor="middle" fill="#262626" textLength="81.5" lengthAdjust="spacingAndGlyphs" stroke="#262626" stroke-width="0.18" >Relative fluorescence unit (RFU)</text>
<text x="258.40" y="445.60" font-size="7.4" text-anchor="middle" fill="#1a1a1a" textLength="45.5" lengthAdjust="spacingAndGlyphs" stroke="#1a1a1a" stroke-width="0.28">cDNA dilution (%)</text>
<line x1="353.00" y1="256.00" x2="353.00" y2="361.00" stroke="#141414" stroke-width="1.0" />
<line x1="350.50" y1="257.70" x2="353.00" y2="257.70" stroke="#141414" stroke-width="0.7" />
<text x="346.90" y="259.60" font-size="5.3" text-anchor="end" fill="#222" stroke="#222" stroke-width="0.06" textLength="13.60" lengthAdjust="spacingAndGlyphs">4000</text>
<line x1="350.50" y1="278.05" x2="353.00" y2="278.05" stroke="#141414" stroke-width="0.7" />
<text x="346.90" y="279.95" font-size="5.3" text-anchor="end" fill="#222" stroke="#222" stroke-width="0.06" textLength="13.60" lengthAdjust="spacingAndGlyphs">3000</text>
<line x1="350.50" y1="298.40" x2="353.00" y2="298.40" stroke="#141414" stroke-width="0.7" />
<text x="346.90" y="300.30" font-size="5.3" text-anchor="end" fill="#222" stroke="#222" stroke-width="0.06" textLength="13.60" lengthAdjust="spacingAndGlyphs">2000</text>
<line x1="350.50" y1="318.75" x2="353.00" y2="318.75" stroke="#141414" stroke-width="0.7" />
<text x="346.90" y="320.65" font-size="5.3" text-anchor="end" fill="#222" stroke="#222" stroke-width="0.06" textLength="13.60" lengthAdjust="spacingAndGlyphs">1000</text>
<line x1="350.50" y1="339.10" x2="353.00" y2="339.10" stroke="#141414" stroke-width="0.7" />
<text x="346.90" y="341.00" font-size="5.3" text-anchor="end" fill="#222" stroke="#222" stroke-width="0.06" textLength="3.40" lengthAdjust="spacingAndGlyphs">0</text>
<line x1="350.50" y1="359.45" x2="353.00" y2="359.45" stroke="#141414" stroke-width="0.7" />
<text x="346.90" y="361.35" font-size="5.3" text-anchor="end" fill="#222" stroke="#222" stroke-width="0.06" textLength="16.00" lengthAdjust="spacingAndGlyphs">&#8722;1000</text>
<line x1="353.00" y1="339.10" x2="465.20" y2="339.10" stroke="#141414" stroke-width="1.0" />
<line x1="353.40" y1="339.10" x2="353.40" y2="341.50" stroke="#141414" stroke-width="0.7" />
<line x1="357.05" y1="339.10" x2="357.05" y2="340.40" stroke="#141414" stroke-width="0.7" />
<line x1="360.69" y1="339.10" x2="360.69" y2="340.40" stroke="#141414" stroke-width="0.7" />
<line x1="364.34" y1="339.10" x2="364.34" y2="340.40" stroke="#141414" stroke-width="0.7" />
<line x1="367.99" y1="339.10" x2="367.99" y2="340.40" stroke="#141414" stroke-width="0.7" />
<line x1="371.63" y1="339.10" x2="371.63" y2="340.40" stroke="#141414" stroke-width="0.7" />
<line x1="375.28" y1="339.10" x2="375.28" y2="340.40" stroke="#141414" stroke-width="0.7" />
<line x1="378.93" y1="339.10" x2="378.93" y2="340.40" stroke="#141414" stroke-width="0.7" />
<line x1="382.57" y1="339.10" x2="382.57" y2="340.40" stroke="#141414" stroke-width="0.7" />
<line x1="386.22" y1="339.10" x2="386.22" y2="340.40" stroke="#141414" stroke-width="0.7" />
<line x1="389.87" y1="339.10" x2="389.87" y2="341.50" stroke="#141414" stroke-width="0.7" />
<line x1="393.51" y1="339.10" x2="393.51" y2="340.40" stroke="#141414" stroke-width="0.7" />
<line x1="397.16" y1="339.10" x2="397.16" y2="340.40" stroke="#141414" stroke-width="0.7" />
<line x1="400.81" y1="339.10" x2="400.81" y2="340.40" stroke="#141414" stroke-width="0.7" />
<line x1="404.45" y1="339.10" x2="404.45" y2="340.40" stroke="#141414" stroke-width="0.7" />
<line x1="408.10" y1="339.10" x2="408.10" y2="340.40" stroke="#141414" stroke-width="0.7" />
<line x1="411.75" y1="339.10" x2="411.75" y2="340.40" stroke="#141414" stroke-width="0.7" />
<line x1="415.39" y1="339.10" x2="415.39" y2="340.40" stroke="#141414" stroke-width="0.7" />
<line x1="419.04" y1="339.10" x2="419.04" y2="340.40" stroke="#141414" stroke-width="0.7" />
<line x1="422.69" y1="339.10" x2="422.69" y2="340.40" stroke="#141414" stroke-width="0.7" />
<line x1="426.33" y1="339.10" x2="426.33" y2="341.50" stroke="#141414" stroke-width="0.7" />
<line x1="429.98" y1="339.10" x2="429.98" y2="340.40" stroke="#141414" stroke-width="0.7" />
<line x1="433.63" y1="339.10" x2="433.63" y2="340.40" stroke="#141414" stroke-width="0.7" />
<line x1="437.27" y1="339.10" x2="437.27" y2="340.40" stroke="#141414" stroke-width="0.7" />
<line x1="440.92" y1="339.10" x2="440.92" y2="340.40" stroke="#141414" stroke-width="0.7" />
<line x1="444.57" y1="339.10" x2="444.57" y2="340.40" stroke="#141414" stroke-width="0.7" />
<line x1="448.21" y1="339.10" x2="448.21" y2="340.40" stroke="#141414" stroke-width="0.7" />
<line x1="451.86" y1="339.10" x2="451.86" y2="340.40" stroke="#141414" stroke-width="0.7" />
<line x1="455.51" y1="339.10" x2="455.51" y2="340.40" stroke="#141414" stroke-width="0.7" />
<line x1="459.15" y1="339.10" x2="459.15" y2="340.40" stroke="#141414" stroke-width="0.7" />
<line x1="462.80" y1="339.10" x2="462.80" y2="341.50" stroke="#141414" stroke-width="0.7" />
<text x="389.87" y="350.49" font-size="5.8" text-anchor="middle" fill="#333" textLength="21" lengthAdjust="spacingAndGlyphs" stroke="#333" stroke-width="0.05" >0:10:00</text>
<text x="426.33" y="350.49" font-size="5.8" text-anchor="middle" fill="#333" textLength="21" lengthAdjust="spacingAndGlyphs" stroke="#333" stroke-width="0.05" >0:20:00</text>
<text x="462.80" y="350.49" font-size="5.8" text-anchor="middle" fill="#333" textLength="21" lengthAdjust="spacingAndGlyphs" stroke="#333" stroke-width="0.05" >0:30:00</text>
<text x="409.20" y="361.30" font-size="7.8" text-anchor="middle" fill="#1a1a1a" textLength="26.7" lengthAdjust="spacingAndGlyphs" stroke="#1a1a1a" stroke-width="0.28">Time (min)</text>
<text transform="translate(324.80,308.55) rotate(-90)" font-size="8.2" text-anchor="middle" fill="#262626" textLength="80.5" lengthAdjust="spacingAndGlyphs" stroke="#262626" stroke-width="0.18" >Relative fluorescence unit (RFU)</text>
<polygon points="353.40,338.40 371.63,338.60 389.87,335.50 408.10,334.40 426.33,332.20 444.57,329.80 462.80,328.60 462.80,328.30 444.57,329.00 426.33,329.70 408.10,330.00 389.87,331.50 371.63,338.20 353.40,338.00" fill="#eef8fc"/>
<polygon points="353.40,335.2 371.63,329.4 371.63,335.2 353.40,338.0" fill="#f0d2d0"/>
<polyline points="353.40,338.40 371.63,338.60 389.87,335.50 408.10,334.40 426.33,332.20 444.57,329.80 462.80,328.60" fill="none" stroke="#78c2e8" stroke-width="0.62"/>
<circle cx="353.40" cy="338.40" r="0.85" fill="#3a8cc0"/>
<circle cx="371.63" cy="338.60" r="0.85" fill="#3a8cc0"/>
<circle cx="389.87" cy="335.50" r="0.85" fill="#3a8cc0"/>
<circle cx="408.10" cy="334.40" r="0.85" fill="#3a8cc0"/>
<circle cx="426.33" cy="332.20" r="0.85" fill="#3a8cc0"/>
<circle cx="444.57" cy="329.80" r="0.85" fill="#3a8cc0"/>
<circle cx="462.80" cy="328.60" r="0.85" fill="#3a8cc0"/>
<polyline points="353.40,338.00 371.63,338.20 389.87,331.50 408.10,330.00 426.33,329.70 444.57,329.00 462.80,328.30" fill="none" stroke="#8a6a5a" stroke-width="0.62"/>
<circle cx="353.40" cy="338.00" r="0.85" fill="#2a1a1a"/>
<circle cx="371.63" cy="338.20" r="0.85" fill="#2a1a1a"/>
<circle cx="389.87" cy="331.50" r="0.85" fill="#2a1a1a"/>
<circle cx="408.10" cy="330.00" r="0.85" fill="#2a1a1a"/>
<circle cx="426.33" cy="329.70" r="0.85" fill="#2a1a1a"/>
<circle cx="444.57" cy="329.00" r="0.85" fill="#2a1a1a"/>
<line x1="462.80" y1="327.30" x2="462.80" y2="329.30" stroke="#8a6a5a" stroke-width="0.6" />
<line x1="461.80" y1="327.30" x2="463.80" y2="327.30" stroke="#8a6a5a" stroke-width="0.6" />
<line x1="461.80" y1="329.30" x2="463.80" y2="329.30" stroke="#8a6a5a" stroke-width="0.6" />
<circle cx="462.80" cy="328.30" r="0.85" fill="#2a1a1a"/>
<polyline points="353.40,337.60 371.63,335.20 389.87,313.50 408.10,286.50 426.33,260.10 444.57,260.10 462.80,257.80" fill="none" stroke="#d89050" stroke-width="0.62"/>
<circle cx="353.40" cy="337.60" r="0.85" fill="#b87038"/>
<circle cx="371.63" cy="335.20" r="0.85" fill="#b87038"/>
<line x1="389.87" y1="312.50" x2="389.87" y2="314.50" stroke="#d89050" stroke-width="0.6" />
<line x1="388.87" y1="312.50" x2="390.87" y2="312.50" stroke="#d89050" stroke-width="0.6" />
<line x1="388.87" y1="314.50" x2="390.87" y2="314.50" stroke="#d89050" stroke-width="0.6" />
<circle cx="389.87" cy="313.50" r="0.85" fill="#b87038"/>
<line x1="408.10" y1="285.50" x2="408.10" y2="287.50" stroke="#d89050" stroke-width="0.6" />
<line x1="407.10" y1="285.50" x2="409.10" y2="285.50" stroke="#d89050" stroke-width="0.6" />
<line x1="407.10" y1="287.50" x2="409.10" y2="287.50" stroke="#d89050" stroke-width="0.6" />
<circle cx="408.10" cy="286.50" r="0.85" fill="#b87038"/>
<circle cx="426.33" cy="260.10" r="0.85" fill="#b87038"/>
<circle cx="444.57" cy="260.10" r="0.85" fill="#b87038"/>
<circle cx="462.80" cy="257.80" r="0.85" fill="#b87038"/>
<polyline points="353.40,337.00 371.63,334.60 389.87,312.90 408.10,295.50 426.33,294.10 444.57,292.80 462.80,292.00" fill="none" stroke="#f2b84a" stroke-width="0.62"/>
<circle cx="353.40" cy="337.00" r="0.85" fill="#e0a030"/>
<line x1="371.63" y1="333.10" x2="371.63" y2="336.10" stroke="#f5c468" stroke-width="0.6" />
<line x1="370.63" y1="333.10" x2="372.63" y2="333.10" stroke="#f5c468" stroke-width="0.6" />
<line x1="370.63" y1="336.10" x2="372.63" y2="336.10" stroke="#f5c468" stroke-width="0.6" />
<circle cx="371.63" cy="334.60" r="0.85" fill="#e0a030"/>
<line x1="389.87" y1="307.40" x2="389.87" y2="318.40" stroke="#f5c468" stroke-width="0.6" />
<line x1="388.87" y1="307.40" x2="390.87" y2="307.40" stroke="#f5c468" stroke-width="0.6" />
<line x1="388.87" y1="318.40" x2="390.87" y2="318.40" stroke="#f5c468" stroke-width="0.6" />
<circle cx="389.87" cy="312.90" r="0.85" fill="#e0a030"/>
<line x1="408.10" y1="283.50" x2="408.10" y2="307.50" stroke="#f5c468" stroke-width="0.6" />
<line x1="407.10" y1="283.50" x2="409.10" y2="283.50" stroke="#f5c468" stroke-width="0.6" />
<line x1="407.10" y1="307.50" x2="409.10" y2="307.50" stroke="#f5c468" stroke-width="0.6" />
<circle cx="408.10" cy="295.50" r="0.85" fill="#e0a030"/>
<line x1="426.33" y1="286.10" x2="426.33" y2="302.10" stroke="#f5c468" stroke-width="0.6" />
<line x1="425.33" y1="286.10" x2="427.33" y2="286.10" stroke="#f5c468" stroke-width="0.6" />
<line x1="425.33" y1="302.10" x2="427.33" y2="302.10" stroke="#f5c468" stroke-width="0.6" />
<circle cx="426.33" cy="294.10" r="0.85" fill="#e0a030"/>
<line x1="444.57" y1="285.30" x2="444.57" y2="300.30" stroke="#f5c468" stroke-width="0.6" />
<line x1="443.57" y1="285.30" x2="445.57" y2="285.30" stroke="#f5c468" stroke-width="0.6" />
<line x1="443.57" y1="300.30" x2="445.57" y2="300.30" stroke="#f5c468" stroke-width="0.6" />
<circle cx="444.57" cy="292.80" r="0.85" fill="#e0a030"/>
<line x1="462.80" y1="284.50" x2="462.80" y2="299.50" stroke="#f5c468" stroke-width="0.6" />
<line x1="461.80" y1="284.50" x2="463.80" y2="284.50" stroke="#f5c468" stroke-width="0.6" />
<line x1="461.80" y1="299.50" x2="463.80" y2="299.50" stroke="#f5c468" stroke-width="0.6" />
<circle cx="462.80" cy="292.00" r="0.85" fill="#e0a030"/>
<polyline points="353.40,336.00 371.63,330.60 389.87,302.00 408.10,281.60 426.33,279.90 444.57,279.30 462.80,279.30" fill="none" stroke="#6a2a80" stroke-width="0.62"/>
<circle cx="353.40" cy="336.00" r="0.85" fill="#3a1050"/>
<line x1="371.63" y1="329.60" x2="371.63" y2="331.60" stroke="#6a2a80" stroke-width="0.6" />
<line x1="370.63" y1="329.60" x2="372.63" y2="329.60" stroke="#6a2a80" stroke-width="0.6" />
<line x1="370.63" y1="331.60" x2="372.63" y2="331.60" stroke="#6a2a80" stroke-width="0.6" />
<circle cx="371.63" cy="330.60" r="0.85" fill="#3a1050"/>
<line x1="389.87" y1="300.80" x2="389.87" y2="303.20" stroke="#6a2a80" stroke-width="0.6" />
<line x1="388.87" y1="300.80" x2="390.87" y2="300.80" stroke="#6a2a80" stroke-width="0.6" />
<line x1="388.87" y1="303.20" x2="390.87" y2="303.20" stroke="#6a2a80" stroke-width="0.6" />
<circle cx="389.87" cy="302.00" r="0.85" fill="#3a1050"/>
<line x1="408.10" y1="279.60" x2="408.10" y2="283.60" stroke="#6a2a80" stroke-width="0.6" />
<line x1="407.10" y1="279.60" x2="409.10" y2="279.60" stroke="#6a2a80" stroke-width="0.6" />
<line x1="407.10" y1="283.60" x2="409.10" y2="283.60" stroke="#6a2a80" stroke-width="0.6" />
<circle cx="408.10" cy="281.60" r="0.85" fill="#3a1050"/>
<line x1="426.33" y1="278.40" x2="426.33" y2="281.40" stroke="#6a2a80" stroke-width="0.6" />
<line x1="425.33" y1="278.40" x2="427.33" y2="278.40" stroke="#6a2a80" stroke-width="0.6" />
<line x1="425.33" y1="281.40" x2="427.33" y2="281.40" stroke="#6a2a80" stroke-width="0.6" />
<circle cx="426.33" cy="279.90" r="0.85" fill="#3a1050"/>
<line x1="444.57" y1="277.80" x2="444.57" y2="280.80" stroke="#6a2a80" stroke-width="0.6" />
<line x1="443.57" y1="277.80" x2="445.57" y2="277.80" stroke="#6a2a80" stroke-width="0.6" />
<line x1="443.57" y1="280.80" x2="445.57" y2="280.80" stroke="#6a2a80" stroke-width="0.6" />
<circle cx="444.57" cy="279.30" r="0.85" fill="#3a1050"/>
<line x1="462.80" y1="276.80" x2="462.80" y2="281.80" stroke="#6a2a80" stroke-width="0.6" />
<line x1="461.80" y1="276.80" x2="463.80" y2="276.80" stroke="#6a2a80" stroke-width="0.6" />
<line x1="461.80" y1="281.80" x2="463.80" y2="281.80" stroke="#6a2a80" stroke-width="0.6" />
<circle cx="462.80" cy="279.30" r="0.85" fill="#3a1050"/>
<polyline points="353.40,335.60 371.63,329.80 389.87,295.50 408.10,274.20 426.33,274.20 444.57,274.30 462.80,274.80" fill="none" stroke="#3aa04a" stroke-width="0.62"/>
<circle cx="353.40" cy="335.60" r="0.85" fill="#207030"/>
<line x1="371.63" y1="328.80" x2="371.63" y2="330.80" stroke="#3aa04a" stroke-width="0.6" />
<line x1="370.63" y1="328.80" x2="372.63" y2="328.80" stroke="#3aa04a" stroke-width="0.6" />
<line x1="370.63" y1="330.80" x2="372.63" y2="330.80" stroke="#3aa04a" stroke-width="0.6" />
<circle cx="371.63" cy="329.80" r="0.85" fill="#207030"/>
<line x1="389.87" y1="294.50" x2="389.87" y2="296.50" stroke="#3aa04a" stroke-width="0.6" />
<line x1="388.87" y1="294.50" x2="390.87" y2="294.50" stroke="#3aa04a" stroke-width="0.6" />
<line x1="388.87" y1="296.50" x2="390.87" y2="296.50" stroke="#3aa04a" stroke-width="0.6" />
<circle cx="389.87" cy="295.50" r="0.85" fill="#207030"/>
<line x1="408.10" y1="273.00" x2="408.10" y2="275.40" stroke="#3aa04a" stroke-width="0.6" />
<line x1="407.10" y1="273.00" x2="409.10" y2="273.00" stroke="#3aa04a" stroke-width="0.6" />
<line x1="407.10" y1="275.40" x2="409.10" y2="275.40" stroke="#3aa04a" stroke-width="0.6" />
<circle cx="408.10" cy="274.20" r="0.85" fill="#207030"/>
<line x1="426.33" y1="273.00" x2="426.33" y2="275.40" stroke="#3aa04a" stroke-width="0.6" />
<line x1="425.33" y1="273.00" x2="427.33" y2="273.00" stroke="#3aa04a" stroke-width="0.6" />
<line x1="425.33" y1="275.40" x2="427.33" y2="275.40" stroke="#3aa04a" stroke-width="0.6" />
<circle cx="426.33" cy="274.20" r="0.85" fill="#207030"/>
<line x1="444.57" y1="273.10" x2="444.57" y2="275.50" stroke="#3aa04a" stroke-width="0.6" />
<line x1="443.57" y1="273.10" x2="445.57" y2="273.10" stroke="#3aa04a" stroke-width="0.6" />
<line x1="443.57" y1="275.50" x2="445.57" y2="275.50" stroke="#3aa04a" stroke-width="0.6" />
<circle cx="444.57" cy="274.30" r="0.85" fill="#207030"/>
<line x1="462.80" y1="273.60" x2="462.80" y2="276.00" stroke="#3aa04a" stroke-width="0.6" />
<line x1="461.80" y1="273.60" x2="463.80" y2="273.60" stroke="#3aa04a" stroke-width="0.6" />
<line x1="461.80" y1="276.00" x2="463.80" y2="276.00" stroke="#3aa04a" stroke-width="0.6" />
<circle cx="462.80" cy="274.80" r="0.85" fill="#207030"/>
<polyline points="353.40,335.60 371.63,329.80 389.87,295.50 408.10,274.00 426.33,274.00 444.57,274.00 462.80,274.50" fill="none" stroke="#b02040" stroke-width="0.62"/>
<circle cx="353.40" cy="335.60" r="0.85" fill="#801020"/>
<line x1="371.63" y1="328.80" x2="371.63" y2="330.80" stroke="#b02040" stroke-width="0.6" />
<line x1="370.63" y1="328.80" x2="372.63" y2="328.80" stroke="#b02040" stroke-width="0.6" />
<line x1="370.63" y1="330.80" x2="372.63" y2="330.80" stroke="#b02040" stroke-width="0.6" />
<circle cx="371.63" cy="329.80" r="0.85" fill="#801020"/>
<line x1="389.87" y1="294.30" x2="389.87" y2="296.70" stroke="#b02040" stroke-width="0.6" />
<line x1="388.87" y1="294.30" x2="390.87" y2="294.30" stroke="#b02040" stroke-width="0.6" />
<line x1="388.87" y1="296.70" x2="390.87" y2="296.70" stroke="#b02040" stroke-width="0.6" />
<circle cx="389.87" cy="295.50" r="0.85" fill="#801020"/>
<line x1="408.10" y1="272.50" x2="408.10" y2="275.50" stroke="#b02040" stroke-width="0.6" />
<line x1="407.10" y1="272.50" x2="409.10" y2="272.50" stroke="#b02040" stroke-width="0.6" />
<line x1="407.10" y1="275.50" x2="409.10" y2="275.50" stroke="#b02040" stroke-width="0.6" />
<circle cx="408.10" cy="274.00" r="0.85" fill="#801020"/>
<line x1="426.33" y1="272.50" x2="426.33" y2="275.50" stroke="#b02040" stroke-width="0.6" />
<line x1="425.33" y1="272.50" x2="427.33" y2="272.50" stroke="#b02040" stroke-width="0.6" />
<line x1="425.33" y1="275.50" x2="427.33" y2="275.50" stroke="#b02040" stroke-width="0.6" />
<circle cx="426.33" cy="274.00" r="0.85" fill="#801020"/>
<line x1="444.57" y1="272.00" x2="444.57" y2="276.00" stroke="#b02040" stroke-width="0.6" />
<line x1="443.57" y1="272.00" x2="445.57" y2="272.00" stroke="#b02040" stroke-width="0.6" />
<line x1="443.57" y1="276.00" x2="445.57" y2="276.00" stroke="#b02040" stroke-width="0.6" />
<circle cx="444.57" cy="274.00" r="0.85" fill="#801020"/>
<line x1="462.80" y1="272.50" x2="462.80" y2="276.50" stroke="#b02040" stroke-width="0.6" />
<line x1="461.80" y1="272.50" x2="463.80" y2="272.50" stroke="#b02040" stroke-width="0.6" />
<line x1="461.80" y1="276.50" x2="463.80" y2="276.50" stroke="#b02040" stroke-width="0.6" />
<circle cx="462.80" cy="274.50" r="0.85" fill="#801020"/>
<polyline points="353.40,335.20 371.63,329.40 389.87,288.00 408.10,264.80 426.33,265.20 444.57,266.00 462.80,266.20" fill="none" stroke="#3a68a0" stroke-width="0.62"/>
<circle cx="353.40" cy="335.20" r="0.85" fill="#1e3a66"/>
<circle cx="371.63" cy="329.40" r="0.85" fill="#1e3a66"/>
<line x1="389.87" y1="286.20" x2="389.87" y2="289.80" stroke="#3a68a0" stroke-width="0.6" />
<line x1="388.87" y1="286.20" x2="390.87" y2="286.20" stroke="#3a68a0" stroke-width="0.6" />
<line x1="388.87" y1="289.80" x2="390.87" y2="289.80" stroke="#3a68a0" stroke-width="0.6" />
<circle cx="389.87" cy="288.00" r="0.85" fill="#1e3a66"/>
<line x1="408.10" y1="261.50" x2="408.10" y2="268.10" stroke="#3a68a0" stroke-width="0.6" />
<line x1="407.10" y1="261.50" x2="409.10" y2="261.50" stroke="#3a68a0" stroke-width="0.6" />
<line x1="407.10" y1="268.10" x2="409.10" y2="268.10" stroke="#3a68a0" stroke-width="0.6" />
<circle cx="408.10" cy="264.80" r="0.85" fill="#1e3a66"/>
<line x1="426.33" y1="263.70" x2="426.33" y2="266.70" stroke="#3a68a0" stroke-width="0.6" />
<line x1="425.33" y1="263.70" x2="427.33" y2="263.70" stroke="#3a68a0" stroke-width="0.6" />
<line x1="425.33" y1="266.70" x2="427.33" y2="266.70" stroke="#3a68a0" stroke-width="0.6" />
<circle cx="426.33" cy="265.20" r="0.85" fill="#1e3a66"/>
<line x1="444.57" y1="263.00" x2="444.57" y2="269.00" stroke="#3a68a0" stroke-width="0.6" />
<line x1="443.57" y1="263.00" x2="445.57" y2="263.00" stroke="#3a68a0" stroke-width="0.6" />
<line x1="443.57" y1="269.00" x2="445.57" y2="269.00" stroke="#3a68a0" stroke-width="0.6" />
<circle cx="444.57" cy="266.00" r="0.85" fill="#1e3a66"/>
<line x1="462.80" y1="263.70" x2="462.80" y2="268.70" stroke="#3a68a0" stroke-width="0.6" />
<line x1="461.80" y1="263.70" x2="463.80" y2="263.70" stroke="#3a68a0" stroke-width="0.6" />
<line x1="461.80" y1="268.70" x2="463.80" y2="268.70" stroke="#3a68a0" stroke-width="0.6" />
<circle cx="462.80" cy="266.20" r="0.85" fill="#1e3a66"/>
<text x="495.50" y="267.56" font-size="6.0" text-anchor="middle" fill="#333" font-style="italic" textLength="28.2" lengthAdjust="spacingAndGlyphs" stroke="#333" stroke-width="0.08" >PML-RARA</text>
<text x="495.00" y="275.36" font-size="6.0" text-anchor="middle" fill="#333" textLength="36.3" lengthAdjust="spacingAndGlyphs" stroke="#333" stroke-width="0.08" >Copy Number</text>
<line x1="481.00" y1="282.90" x2="488.10" y2="282.90" stroke="#8898b0" stroke-width="0.8" />
<circle cx="484.6" cy="282.90" r="1.0" fill="#203050"/>
<text x="491.6" y="285.00" font-size="5.9" fill="#333" stroke="#333" stroke-width="0.08" textLength="14.5" lengthAdjust="spacingAndGlyphs">8700</text>
<line x1="481.00" y1="292.64" x2="488.10" y2="292.64" stroke="#e08898" stroke-width="0.8" />
<circle cx="484.6" cy="292.64" r="1.0" fill="#901020"/>
<text x="491.6" y="294.74" font-size="5.9" fill="#333" stroke="#333" stroke-width="0.08" textLength="10.9" lengthAdjust="spacingAndGlyphs">870</text>
<line x1="481.00" y1="302.38" x2="488.10" y2="302.38" stroke="#68c068" stroke-width="0.8" />
<circle cx="484.6" cy="302.38" r="1.0" fill="#207030"/>
<text x="491.6" y="304.48" font-size="5.9" fill="#333" stroke="#333" stroke-width="0.08" textLength="7.3" lengthAdjust="spacingAndGlyphs">87</text>
<line x1="481.00" y1="312.12" x2="488.10" y2="312.12" stroke="#8868a8" stroke-width="0.8" />
<circle cx="484.6" cy="312.12" r="1.0" fill="#301040"/>
<text x="491.6" y="314.22" font-size="5.9" fill="#333" stroke="#333" stroke-width="0.08" textLength="9.5" lengthAdjust="spacingAndGlyphs">8.7</text>
<line x1="481.00" y1="321.86" x2="488.10" y2="321.86" stroke="#f8c880" stroke-width="0.8" />
<circle cx="484.6" cy="321.86" r="1.0" fill="#e0a040"/>
<text x="491.6" y="323.96" font-size="5.9" fill="#333" stroke="#333" stroke-width="0.08" textLength="13.1" lengthAdjust="spacingAndGlyphs">0.87</text>
<line x1="481.00" y1="331.60" x2="488.10" y2="331.60" stroke="#a09488" stroke-width="0.8" />
<circle cx="484.6" cy="331.60" r="1.0" fill="#302020"/>
<text x="491.6" y="333.70" font-size="5.9" fill="#333" stroke="#333" stroke-width="0.08" textLength="16.7" lengthAdjust="spacingAndGlyphs">0.087</text>
<line x1="481.00" y1="341.34" x2="488.10" y2="341.34" stroke="#e0b090" stroke-width="0.8" />
<circle cx="484.6" cy="341.34" r="1.0" fill="#b07040"/>
<text x="491.6" y="343.44" font-size="5.9" fill="#333" stroke="#333" stroke-width="0.08" textLength="15.5" lengthAdjust="spacingAndGlyphs">GUS&#946;</text>
<line x1="481.00" y1="351.08" x2="488.10" y2="351.08" stroke="#90c8e8" stroke-width="0.8" />
<circle cx="484.6" cy="351.08" r="1.0" fill="#4090c0"/>
<text x="491.6" y="353.18" font-size="5.9" fill="#333" stroke="#333" stroke-width="0.08" textLength="12.5" lengthAdjust="spacingAndGlyphs">AML</text>
<text x="216.50" y="40.70" font-size="5.9" fill="#5574b4" textLength="30" lengthAdjust="spacingAndGlyphs" stroke="#5574b4" stroke-width="0.05" >NB4 cDNA</text>
<polyline points="224.00,45.30 226.20,43.30 228.40,45.30 230.60,47.30 232.80,45.30 235.00,43.30 237.20,45.30 239.40,47.30 241.60,45.30" fill="none" stroke="#3e4c62" stroke-width="0.75" stroke-linejoin="round"/>
<polyline points="224.00,45.30 226.20,47.30 228.40,45.30 230.60,43.30 232.80,45.30 235.00,47.30 237.20,45.30 239.40,43.30 241.60,45.30" fill="none" stroke="#3e4c62" stroke-width="0.75" stroke-linejoin="round"/>
<polyline points="228.90,49.10 231.10,47.10 233.30,49.10 235.50,51.10 237.70,49.10 239.90,47.10 242.10,49.10 244.30,51.10 246.50,49.10" fill="none" stroke="#3e4c62" stroke-width="0.75" stroke-linejoin="round"/>
<polyline points="228.90,49.10 231.10,51.10 233.30,49.10 235.50,47.10 237.70,49.10 239.90,51.10 242.10,49.10 244.30,47.10 246.50,49.10" fill="none" stroke="#3e4c62" stroke-width="0.75" stroke-linejoin="round"/>
<polyline points="233.80,52.90 236.00,50.90 238.20,52.90 240.40,54.90 242.60,52.90 244.80,50.90 247.00,52.90 249.20,54.90 251.40,52.90" fill="none" stroke="#3e4c62" stroke-width="0.75" stroke-linejoin="round"/>
<polyline points="233.80,52.90 236.00,54.90 238.20,52.90 240.40,50.90 242.60,52.90 244.80,54.90 247.00,52.90 249.20,50.90 251.40,52.90" fill="none" stroke="#3e4c62" stroke-width="0.75" stroke-linejoin="round"/>
<polyline points="238.70,56.70 240.90,54.70 243.10,56.70 245.30,58.70 247.50,56.70 249.70,54.70 251.90,56.70 254.10,58.70 256.30,56.70" fill="none" stroke="#3e4c62" stroke-width="0.75" stroke-linejoin="round"/>
<polyline points="238.70,56.70 240.90,58.70 243.10,56.70 245.30,54.70 247.50,56.70 249.70,58.70 251.90,56.70 254.10,54.70 256.30,56.70" fill="none" stroke="#3e4c62" stroke-width="0.75" stroke-linejoin="round"/>
<text x="221.20" y="81.60" font-size="5.9" fill="#d2e2e8" textLength="33" lengthAdjust="spacingAndGlyphs" stroke="#d2e2e8" stroke-width="0.05" >HL60 cDNA</text>
<polyline points="229.60,85.50 231.72,83.50 233.85,85.50 235.97,87.50 238.10,85.50 240.22,83.50 242.35,85.50 244.47,87.50 246.60,85.50" fill="none" stroke="#d6e6ea" stroke-width="0.6" stroke-linejoin="round"/>
<polyline points="229.60,85.50 231.72,87.50 233.85,85.50 235.97,83.50 238.10,85.50 240.22,87.50 242.35,85.50 244.47,83.50 246.60,85.50" fill="none" stroke="#d6e6ea" stroke-width="0.6" stroke-linejoin="round"/>
<polyline points="234.20,89.10 236.32,87.10 238.45,89.10 240.57,91.10 242.70,89.10 244.82,87.10 246.95,89.10 249.07,91.10 251.20,89.10" fill="none" stroke="#d6e6ea" stroke-width="0.6" stroke-linejoin="round"/>
<polyline points="234.20,89.10 236.32,91.10 238.45,89.10 240.57,87.10 242.70,89.10 244.82,91.10 246.95,89.10 249.07,87.10 251.20,89.10" fill="none" stroke="#d6e6ea" stroke-width="0.6" stroke-linejoin="round"/>
<polyline points="238.80,92.70 240.92,90.70 243.05,92.70 245.17,94.70 247.30,92.70 249.42,90.70 251.55,92.70 253.67,94.70 255.80,92.70" fill="none" stroke="#d6e6ea" stroke-width="0.6" stroke-linejoin="round"/>
<polyline points="238.80,92.70 240.92,94.70 243.05,92.70 245.17,90.70 247.30,92.70 249.42,94.70 251.55,92.70 253.67,90.70 255.80,92.70" fill="none" stroke="#d6e6ea" stroke-width="0.6" stroke-linejoin="round"/>
<polyline points="243.40,96.30 245.53,94.30 247.65,96.30 249.78,98.30 251.90,96.30 254.03,94.30 256.15,96.30 258.27,98.30 260.40,96.30" fill="none" stroke="#d6e6ea" stroke-width="0.6" stroke-linejoin="round"/>
<polyline points="243.40,96.30 245.53,98.30 247.65,96.30 249.78,94.30 251.90,96.30 254.03,98.30 256.15,96.30 258.27,94.30 260.40,96.30" fill="none" stroke="#d6e6ea" stroke-width="0.6" stroke-linejoin="round"/>
<text x="218.60" y="117.70" font-size="5.9" fill="#7c4e70" textLength="29.2" lengthAdjust="spacingAndGlyphs" stroke="#7c4e70" stroke-width="0.08" >UF1 cDNA</text>
<polyline points="224.70,121.60 226.67,119.70 228.63,121.60 230.60,123.50 232.57,121.60 234.53,119.70 236.50,121.60" fill="none" stroke="#7a3c62" stroke-width="0.75" stroke-linejoin="round"/>
<polyline points="224.70,121.60 226.67,123.50 228.63,121.60 230.60,119.70 232.57,121.60 234.53,123.50 236.50,121.60" fill="none" stroke="#7a3c62" stroke-width="0.75" stroke-linejoin="round"/>
<polyline points="227.90,125.20 229.87,123.30 231.83,125.20 233.80,127.10 235.77,125.20 237.73,123.30 239.70,125.20" fill="none" stroke="#7a3c62" stroke-width="0.75" stroke-linejoin="round"/>
<polyline points="227.90,125.20 229.87,127.10 231.83,125.20 233.80,123.30 235.77,125.20 237.73,127.10 239.70,125.20" fill="none" stroke="#7a3c62" stroke-width="0.75" stroke-linejoin="round"/>
<polyline points="231.10,128.80 233.07,126.90 235.03,128.80 237.00,130.70 238.97,128.80 240.93,126.90 242.90,128.80" fill="none" stroke="#7a3c62" stroke-width="0.75" stroke-linejoin="round"/>
<polyline points="231.10,128.80 233.07,130.70 235.03,128.80 237.00,126.90 238.97,128.80 240.93,130.70 242.90,128.80" fill="none" stroke="#7a3c62" stroke-width="0.75" stroke-linejoin="round"/>
<polyline points="234.30,132.40 236.27,130.50 238.23,132.40 240.20,134.30 242.17,132.40 244.13,130.50 246.10,132.40" fill="none" stroke="#7a3c62" stroke-width="0.75" stroke-linejoin="round"/>
<polyline points="234.30,132.40 236.27,134.30 238.23,132.40 240.20,130.50 242.17,132.40 244.13,134.30 246.10,132.40" fill="none" stroke="#7a3c62" stroke-width="0.75" stroke-linejoin="round"/>
<defs><marker id="ah" markerWidth="6" markerHeight="6" refX="5.5" refY="3" orient="auto" markerUnits="userSpaceOnUse"><path d="M0,0.4 L6,3 L0,5.6 z" fill="#111"/></marker><linearGradient id="gU" gradientUnits="userSpaceOnUse" x1="266" y1="0" x2="342" y2="0"><stop offset="0" stop-color="#e4e4e4"/><stop offset="0.3" stop-color="#b0b0b0"/><stop offset="0.65" stop-color="#505050"/><stop offset="1" stop-color="#111"/></linearGradient></defs>
<line x1="264" y1="45.9" x2="347.3" y2="45.9" stroke="#111" stroke-width="0.9" marker-end="url(#ah)"/>
<line x1="264" y1="121.4" x2="347.3" y2="121.4" stroke="#111" stroke-width="0.9" marker-end="url(#ah)"/>
<path d="M265.6,86.6 Q308.5,46.2 342,46.2" fill="none" stroke="url(#gU)" stroke-width="0.9"/>
<path d="M265.6,86.6 Q309.1,121.4 342,121.4" fill="none" stroke="url(#gU)" stroke-width="0.9"/>
<defs><linearGradient id="gR" gradientUnits="userSpaceOnUse" x1="406" y1="0" x2="428" y2="0"><stop offset="0" stop-color="#ddd"/><stop offset="0.5" stop-color="#555"/><stop offset="1" stop-color="#111"/></linearGradient></defs>
<rect x="406.5" y="71.1" width="20" height="0.9" fill="url(#gR)"/>
<rect x="406.5" y="83.0" width="20" height="0.9" fill="url(#gR)"/>
<path d="M424.8,69.0 L430.5,71.55 L424.8,74.1 z" fill="#111"/>
<path d="M424.8,80.9 L430.5,83.45 L424.8,86.0 z" fill="#111"/>
<text x="436.60" y="73.83" font-size="6.2" stroke="#222" stroke-width="0.1" >RQ-PCR</text>
<text x="436.60" y="85.83" font-size="6.2" stroke="#222" stroke-width="0.1" >RAPID CRISPR</text>
<text x="308.80" y="67.17" font-size="6.3" fill="#333" textLength="50.7" lengthAdjust="spacingAndGlyphs" >% of cDNA dilution</text>
<text x="308.80" y="81.40" font-size="6.4" fill="#333">10<tspan font-size="4" dy="-2.7">2</tspan><tspan dy="2.7"> = 100%</tspan></text>
<text x="308.80" y="87.50" font-size="6.4" fill="#333">10<tspan font-size="4" dy="-2.7">1</tspan><tspan dy="2.7"> = 10%</tspan></text>
<text x="308.80" y="93.80" font-size="6.4" fill="#333">10<tspan font-size="4" dy="-2.7">0</tspan><tspan dy="2.7"> = 1%</tspan></text>
<text x="308.80" y="100.80" font-size="6.4" fill="#333">10<tspan font-size="4" dy="-2.7">&#8722;1</tspan><tspan dy="2.7"> = 0.1%</tspan></text>
<text x="308.80" y="107.20" font-size="6.4" fill="#333">10<tspan font-size="4" dy="-2.7">&#8722;2</tspan><tspan dy="2.7"> = 0.01%</tspan></text>
<text x="355.50" y="81.40" font-size="6.4" fill="#333">10<tspan font-size="4" dy="-2.7">&#8722;3</tspan><tspan dy="2.7"> = 0.001%</tspan></text>
<text x="355.50" y="87.50" font-size="6.4" fill="#333">10<tspan font-size="4" dy="-2.7">&#8722;4</tspan><tspan dy="2.7"> = 0.0001%</tspan></text>
<text x="355.50" y="93.80" font-size="6.4" fill="#333">10<tspan font-size="4" dy="-2.7">&#8722;5</tspan><tspan dy="2.7"> = 0.00001%</tspan></text>
<text x="355.50" y="100.90" font-size="6.4" fill="#333" >0% = HL60 cDNA</text>
<text x="353.2" y="34.29" font-size="5.8" fill="#5a82c0">NB4 <tspan fill="#c9d6e0">+ HL60</tspan></text>
<polyline points="355.10,39.70 357.44,37.90 359.78,39.70 362.11,41.50 364.45,39.70 366.79,37.90 369.12,39.70 371.46,41.50 373.80,39.70" fill="none" stroke="#465468" stroke-width="0.7" stroke-linejoin="round"/>
<polyline points="355.10,39.70 357.44,41.50 359.78,39.70 362.11,37.90 364.45,39.70 366.79,41.50 369.12,39.70 371.46,37.90 373.80,39.70" fill="none" stroke="#465468" stroke-width="0.7" stroke-linejoin="round"/>
<polyline points="359.40,44.50 361.90,43.00 364.40,44.50 366.90,46.00 369.40,44.50 371.90,43.00 374.40,44.50 376.90,46.00 379.40,44.50" fill="none" stroke="#dbe8ec" stroke-width="0.6" stroke-linejoin="round"/>
<polyline points="359.40,44.50 361.90,46.00 364.40,44.50 366.90,43.00 369.40,44.50 371.90,46.00 374.40,44.50 376.90,43.00 379.40,44.50" fill="none" stroke="#dbe8ec" stroke-width="0.6" stroke-linejoin="round"/>
<polyline points="365.20,47.40 367.55,45.60 369.90,47.40 372.25,49.20 374.60,47.40 376.95,45.60 379.30,47.40 381.65,49.20 384.00,47.40" fill="none" stroke="#465468" stroke-width="0.7" stroke-linejoin="round"/>
<polyline points="365.20,47.40 367.55,49.20 369.90,47.40 372.25,45.60 374.60,47.40 376.95,49.20 379.30,47.40 381.65,45.60 384.00,47.40" fill="none" stroke="#465468" stroke-width="0.7" stroke-linejoin="round"/>
<polyline points="362.00,51.00 364.50,49.70 367.00,51.00 369.50,52.30 372.00,51.00 374.50,49.70 377.00,51.00 379.50,52.30 382.00,51.00" fill="none" stroke="#e4eef0" stroke-width="0.6" stroke-linejoin="round"/>
<polyline points="362.00,51.00 364.50,52.30 367.00,51.00 369.50,49.70 372.00,51.00 374.50,52.30 377.00,51.00 379.50,49.70 382.00,51.00" fill="none" stroke="#e4eef0" stroke-width="0.6" stroke-linejoin="round"/>
<polyline points="357.00,113.90 359.20,112.10 361.40,113.90 363.60,115.70 365.80,113.90 368.00,112.10 370.20,113.90" fill="none" stroke="#8a4a6e" stroke-width="0.7" stroke-linejoin="round"/>
<polyline points="357.00,113.90 359.20,115.70 361.40,113.90 363.60,112.10 365.80,113.90 368.00,115.70 370.20,113.90" fill="none" stroke="#8a4a6e" stroke-width="0.7" stroke-linejoin="round"/>
<polyline points="360.00,118.00 362.50,116.60 365.00,118.00 367.50,119.40 370.00,118.00 372.50,116.60 375.00,118.00" fill="none" stroke="#d8ecee" stroke-width="0.6" stroke-linejoin="round"/>
<polyline points="360.00,118.00 362.50,119.40 365.00,118.00 367.50,116.60 370.00,118.00 372.50,119.40 375.00,118.00" fill="none" stroke="#d8ecee" stroke-width="0.6" stroke-linejoin="round"/>
<polyline points="363.30,121.40 365.47,119.60 367.63,121.40 369.80,123.20 371.97,121.40 374.13,119.60 376.30,121.40" fill="none" stroke="#8a4a6e" stroke-width="0.7" stroke-linejoin="round"/>
<polyline points="363.30,121.40 365.47,123.20 367.63,121.40 369.80,119.60 371.97,121.40 374.13,123.20 376.30,121.40" fill="none" stroke="#8a4a6e" stroke-width="0.7" stroke-linejoin="round"/>
<text x="356.0" y="135.0" font-size="6.0" fill="#666">UF1 <tspan fill="#444">+</tspan><tspan fill="#d4dde6"> HL60</tspan></text>
<rect x="0" y="0" width="520" height="1" fill="#5a5a5a"/>
<rect x="0" y="0" width="1.15" height="454" fill="#555"/>
<rect x="518.5" y="0" width="1.5" height="454" fill="#555"/>
<rect x="0" y="452.5" width="520" height="1.5" fill="#4a4a4a"/>
</svg>
</body></html>
